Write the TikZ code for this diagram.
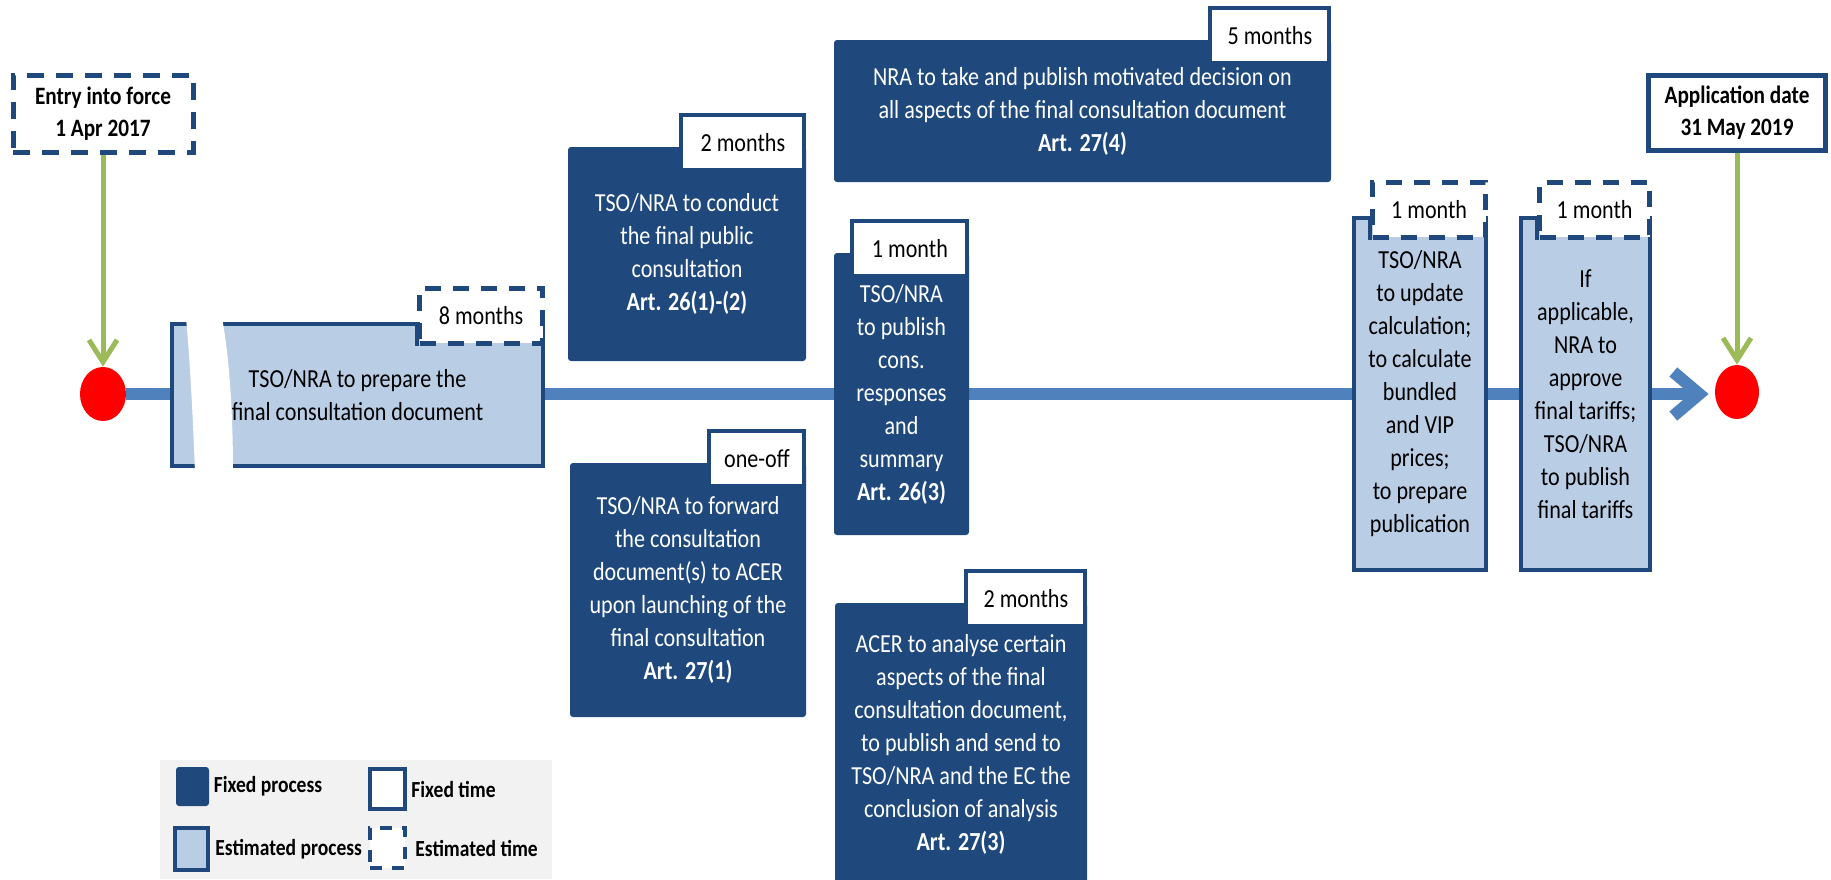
\documentclass[tikz,border=0pt]{standalone}
\usepackage{fontspec}
\setmainfont{Carlito}[FakeStretch=0.85]
\usetikzlibrary{arrows.meta, positioning, shapes.geometric}

\definecolor{procdark}{HTML}{1F497D}
\definecolor{proclight}{HTML}{B9CDE5}
\definecolor{lineblue}{HTML}{4F81BD}
\definecolor{arrowgreen}{HTML}{9BBB59}
\definecolor{legendgray}{HTML}{F2F2F2}

\newcommand{\mainsize}{\fontsize{13}{16.5}\selectfont}

\tikzset{
  fixedproc/.style={fill=procdark, text=white, align=center, inner sep=0pt, rounded corners=1.5pt, font=\mainsize},
  estproc/.style={fill=proclight, draw=procdark, line width=2pt, align=center, inner sep=0pt, font=\mainsize},
  fixedtab/.style={fill=white, draw=procdark, line width=2pt, minimum height=27.5pt, inner sep=0pt, font=\mainsize},
  esttab/.style={fixedtab, dash pattern=on 8pt off 6pt, line width=2.4pt},
  procedge/.style={draw=procdark, line width=2pt},
  datebox/.style={fill=white, draw=procdark, line width=2.5pt, align=center, inner sep=0pt, font=\fontsize{12.5}{16}\selectfont\bfseries},
  reddot/.style={ellipse, fill=red, inner sep=0pt},
  timeline/.style={draw=lineblue, line width=6pt},
  greenarrow/.style={draw=arrowgreen, line width=2.5pt, -{Straight Barb[length=11pt,width=14pt]}},
  legendtext/.style={inner sep=0pt, font=\fontsize{11.5}{13}\selectfont\bfseries}
}

\begin{document}
\begin{tikzpicture}[x=0.5pt, y=-0.5pt]
  \def\px{0.5pt}
  \clip (0,0) rectangle (1831,879);
  \fill[white] (0,0) rectangle (1831,879);

  % Start and end of the timeline
  \node[reddot, minimum width=46*\px, minimum height=54*\px] (startdot) at (103,394) {};
  \node[reddot, minimum width=44*\px, minimum height=54*\px] (enddot) at (1737,392) {};
  \draw[timeline, -{Straight Barb[length=13pt,width=22pt]}, shorten >=3pt] (startdot.east) -- (enddot.west |- startdot.east);

  % Dates
  \node[datebox, dash pattern=on 8.5pt off 6pt, minimum width=180*\px, minimum height=77*\px] (entry) at (103,113.5) {Entry into force\\1 Apr 2017};
  \node[datebox, minimum width=177*\px, minimum height=75*\px] (appdate) at (1737,112.5) {Application date\\31 May 2019};
  \draw[greenarrow] (entry.south) -- (startdot.north);
  \draw[greenarrow] (appdate.south) -- (enddot.north);

  % Fixed processes
  \foreach \name/\cx/\cy/\w/\h/\tw/\dur/\txt in {
    conduct/687/254/238/214/123/2 months/{TSO/NRA to conduct\\the final public\\consultation\\\textbf{Art. 26(1)-(2)}},
    forward/688/590/236/254/95/one-off/{TSO/NRA to forward\\the consultation\\document(s) to ACER\\upon launching of the\\final consultation\\\textbf{Art. 27(1)}},
    publish/901.5/394/135/282/115/1 month/{TSO/NRA\\to publish\\cons.\\responses\\and\\summary\\\textbf{Art. 26(3)}},
    decide/1082.5/111/497/142/119/5 months/{NRA to take and publish motivated decision on\\all aspects of the final consultation document\\\textbf{Art. 27(4)}},
    acer/961/744/252/282/119/2 months/{ACER to analyse certain\\aspects of the final\\consultation document,\\to publish and send to\\TSO/NRA and the EC the\\conclusion of analysis\\\textbf{Art. 27(3)}}%
  }{
    % Box with its text
    \node[fixedproc, minimum width=\w*\px, minimum height=\h*\px] (\name) at (\cx,\cy) {\txt};
    % Duration tab on the corner
    \node[fixedtab, minimum width=\tw*\px, anchor=north east, yshift=34*\px] (\name-tab) at (\name.north east) {\dur};
  }

  % Estimated processes
  \foreach \name/\cx/\cy/\w/\h/\tw/\dur/\txt in {
    prep/357.5/395/371/142/123/8 months/{TSO/NRA to prepare the\\final consultation document},
    update/1420/394/132/352/113/1 month/{TSO/NRA\\to update\\calculation;\\to calculate\\bundled\\and VIP\\prices;\\to prepare\\publication},
    approve/1585.5/394/129/352/110/1 month/{If\\applicable,\\NRA to\\approve\\final tariffs;\\TSO/NRA\\to publish\\final tariffs}%
  }{
    \node[estproc, minimum width=\w*\px, minimum height=\h*\px] (\name) at (\cx,\cy) {\txt};
    \node[esttab, minimum width=\tw*\px, anchor=north east, yshift=36*\px] (\name-tab) at (\name.north east) {\dur};
    \draw[procedge] (\name-tab.south west) -- (\name-tab.south west |- \name.north);
  }

  % Break in the first box
  \fill[white] (186,318) .. controls (190,360) and (193,420) .. (195,472)
    -- (233,472) .. controls (233,420) and (230,360) .. (222,318) -- cycle;

  % Legend
  \fill[legendgray] (160,760) rectangle (552,879);
  \node[fixedproc, minimum width=33*\px, minimum height=39*\px] (keyfixproc) at (192.5,786.5) {};
  \node[legendtext, right=2pt of keyfixproc] (keyfixproclabel) {Fixed process};
  \node[datebox, line width=2pt, minimum width=35*\px, minimum height=40*\px] (keyfixtime) at (387.5,789) {};
  \node[legendtext, right=2pt of keyfixtime] (keyfixtimelabel) {Fixed time};
  \node[estproc, minimum width=33*\px, minimum height=42*\px] (keyestproc) at (191.5,849) {};
  \node[legendtext, right=2.5pt of keyestproc] (keyestproclabel) {Estimated process};
  \node[datebox, line width=2pt, dash pattern=on 6pt off 5pt, minimum width=35*\px, minimum height=40*\px] (keyesttime) at (387.5,848) {};
  \node[legendtext, right=4pt of keyesttime] (keyesttimelabel) {Estimated time};
\end{tikzpicture}
\end{document}
